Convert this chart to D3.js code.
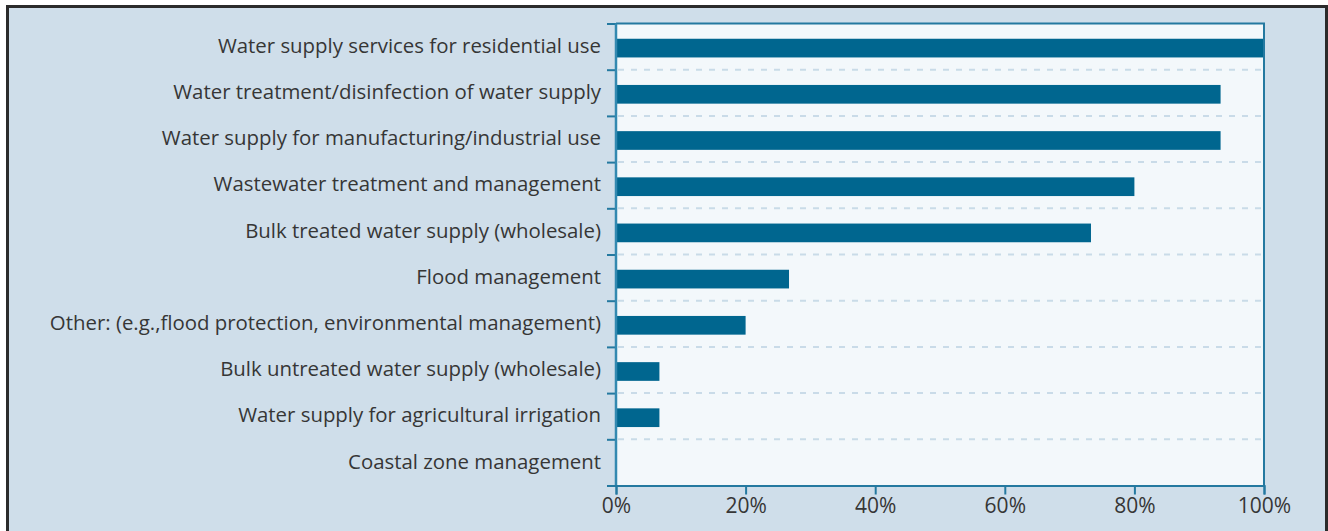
<!DOCTYPE html>
<html>
<head>
<meta charset="utf-8">
<script src="https://cdn.jsdelivr.net/npm/d3@7"></script>
<style>
  html, body { margin: 0; padding: 0; background: #ffffff; }
  svg { display: block; }
  text { font-family: "Open Sans", "Noto Sans", sans-serif; fill: #363636; }
</style>
</head>
<body>
<div id="chart"></div>
<script>
// Categories, top to bottom.
var categories = [
	"Water supply services for residential use",
	"Water treatment/disinfection of water supply",
	"Water supply for manufacturing/industrial use",
	"Wastewater treatment and management",
	"Bulk treated water supply (wholesale)",
	"Flood management",
	"Other: (e.g.,flood protection, environmental management)",
	"Bulk untreated water supply (wholesale) ",
	"Water supply for agricultural irrigation",
	"Coastal zone management"
];
// Share of respondents (%).
var shares = [100, 93.3, 93.3, 80, 73.3, 26.7, 20, 6.7, 6.7, 0];
var xTicks = [0, 20, 40, 60, 80, 100];

var width = 1328,
	height = 531;
var margin = {
	top: 23.5,
	right: 64,
	bottom: 45.5,
	left: 616
};

var svg = d3.select("#chart")
	.append("svg")
	.attr("width", width)
	.attr("height", height);

// outer frame
svg.append("rect")
	.attr("x", 7.5)
	.attr("y", 6.5)
	.attr("width", width - 9)
	.attr("height", height)
	.attr("fill", "#cfdeea")
	.attr("stroke", "#2b2b2b")
	.attr("stroke-width", 3);

var x = d3.scaleLinear()
	.domain([0, 100])
	.range([margin.left, width - margin.right]);

var y = d3.scaleBand()
	.domain(categories)
	.range([margin.top, height - margin.bottom]);

var axisColor = "#2479a0";

// plot background
svg.append("rect")
	.attr("x", x(0))
	.attr("y", y.range()[0])
	.attr("width", x(100) - x(0))
	.attr("height", y.range()[1] - y.range()[0])
	.attr("fill", "#f3f8fb");

// dashed row separators
svg.append("g")
	.selectAll("line")
	.data(categories.slice(1))
	.join("line")
	.attr("x1", x(0) + 2)
	.attr("x2", x(100) - 2)
	.attr("y1", function (d) { return y(d); })
	.attr("y2", function (d) { return y(d); })
	.attr("stroke", "#c9dbe8")
	.attr("stroke-width", 2)
	.attr("stroke-dasharray", "6,7");

// bars
var barH = 18.7;
svg.append("g")
	.selectAll("rect")
	.data(shares)
	.join("rect")
	.attr("x", x(0))
	.attr("y", function (d, i) { return y(categories[i]) + y.bandwidth() / 2 + 1.5 - barH / 2; })
	.attr("width", function (d) { return x(d) - x(0); })
	.attr("height", barH)
	.attr("fill", "#00668f");

// plot border (top and right)
svg.append("path")
	.attr("d", "M" + x(0) + "," + y.range()[0] + "H" + x(100) + "V" + y.range()[1])
	.attr("fill", "none")
	.attr("stroke", axisColor)
	.attr("stroke-width", 2);

// left axis: ticks on band boundaries
var bounds = categories.map(function (d) { return y(d); }).concat([y.range()[1]]);
var yAxis = d3.axisLeft(d3.scaleIdentity())
	.tickValues(bounds)
	.tickSize(9)
	.tickFormat("");
svg.append("g")
	.attr("transform", "translate(" + x(0) + ",0)")
	.call(yAxis)
	.call(function (g) {
		g.select(".domain").remove();
		g.selectAll(".tick line").attr("stroke", axisColor).attr("stroke-width", 2);
	});
svg.append("line")
	.attr("x1", x(0)).attr("x2", x(0))
	.attr("y1", y.range()[0]).attr("y2", y.range()[1])
	.attr("stroke", "#3389b0")
	.attr("stroke-width", 2.5);

// category labels
svg.append("g")
	.selectAll("text")
	.data(categories)
	.join("text")
	.attr("x", x(0) - 15)
	.attr("y", function (d) { return y(d) + y.bandwidth() / 2; })
	.attr("dy", "0.3em")
	.attr("text-anchor", "end")
	.style("font-size", "20.4px")
	.text(function (d) { return d; });

// bottom axis
var xAxis = d3.axisBottom(x)
	.tickValues(xTicks)
	.tickSize(9)
	.tickPadding(4)
	.tickFormat(function (d) { return d + "%"; });
svg.append("g")
	.attr("transform", "translate(0," + y.range()[1] + ")")
	.call(xAxis)
	.call(function (g) {
		g.select(".domain").attr("stroke", axisColor).attr("stroke-width", 2);
		g.selectAll(".tick line").attr("stroke", axisColor).attr("stroke-width", 2);
		g.selectAll(".tick text")
			.style("font-size", "21px")
			.style("font-family", "\"Open Sans\", \"Noto Sans\", sans-serif")
			.attr("fill", "#363636");
	});
</script>
</body>
</html>
